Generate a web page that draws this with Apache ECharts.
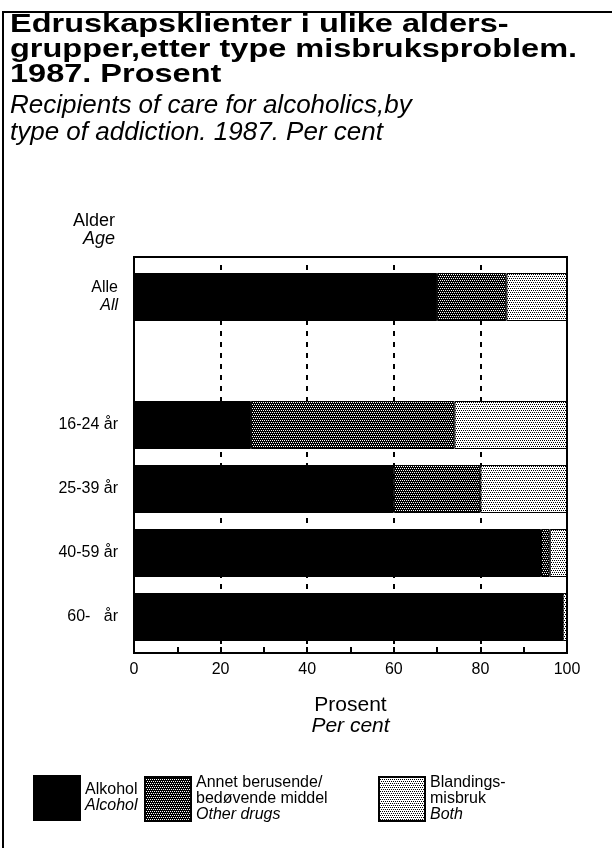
<!DOCTYPE html>
<html>
<head>
<meta charset="utf-8">
<script src="https://cdn.jsdelivr.net/npm/echarts@6/dist/echarts.min.js"></script>
<style>
  html, body { margin: 0; padding: 0; background: #fff; }
  #chart { width: 612px; height: 848px; }
</style>
</head>
<body>
<div id="chart"></div>
<script>
// data (per cent)
var ageGroups = ['Alle', '', '16-24 år', '25-39 år', '40-59 år', '60-   år'];
var ageGroupsEn = ['All', '', '', '', '', ''];
var alcohol = [70, null, 27, 60, 94, 99];
var otherDrugs = [16, null, 47, 20, 2, 0];
var both = [14, null, 26, 20, 4, 1];
var xTicks = [0, 20, 40, 60, 80, 100];

var FONT = '"Liberation Sans", Arial, Helvetica, sans-serif';

// plot frame
var left = 134, right = 567, frameTop = 257, frameBottom = 653;
var gridTop = 265, gridBottom = 649;

// dotted screen patterns like the printed shading
function pattern(size, bg, fg, dots) {
    var c = document.createElement('canvas');
    c.width = size; c.height = size;
    var ctx = c.getContext('2d');
    ctx.fillStyle = bg;
    ctx.fillRect(0, 0, size, size);
    ctx.fillStyle = fg;
    dots.forEach(function (d) { ctx.fillRect(d[0], d[1], 1, 1); });
    return { image: c, repeat: 'repeat' };
}
var darkDots = pattern(4, '#000', '#fff', [[0, 0], [2, 0], [1, 2], [3, 2]]);
var lightDots = pattern(4, '#fff', '#000', [[0, 0], [2, 0], [1, 2], [3, 2]]);

var chart = echarts.init(document.getElementById('chart'));

function seriesOf(name, data, color) {
    return {
        name: name,
        type: 'bar',
        stack: 'total',
        barWidth: 48,
        data: data,
        itemStyle: { color: color, borderColor: '#000', borderWidth: 1 },
        emphasis: { disabled: true }
    };
}

var legendRich = {
    n: { fontFamily: FONT, fontSize: 16, color: '#000', lineHeight: 16 },
    i: { fontFamily: FONT, fontSize: 16, fontStyle: 'italic', color: '#000', lineHeight: 16 }
};

function legendAt(name, x, label) {
    return {
        data: [{ name: name, icon: 'rect' }],
        left: x,
        top: 775,
        padding: 0,
        itemWidth: 46,
        itemHeight: 44,
        selectedMode: false,
        formatter: function () { return label; },
        textStyle: { rich: legendRich }
    };
}

chart.setOption({
    animation: false,
    textStyle: { fontFamily: FONT, color: '#000' },
    title: [{
        text: 'Alder',
        subtext: 'Age',
        left: 115,
        top: 212,
        textAlign: 'right',
        itemGap: 0,
        padding: 0,
        textStyle: { fontFamily: FONT, fontSize: 18, fontWeight: 'normal', color: '#000', lineHeight: 18 },
        subtextStyle: { fontFamily: FONT, fontSize: 18, fontStyle: 'italic', color: '#000', lineHeight: 18 }
    }],
    legend: [
        legendAt('Alkohol', 33, '{n|Alkohol}\n{i|Alcohol}'),
        legendAt('Annet', 144, '{n|Annet berusende/}\n{n|bedøvende middel}\n{i|Other drugs}'),
        legendAt('Blandingsmisbruk', 378, '{n|Blandings-}\n{n|misbruk}\n{i|Both}')
    ],
    grid: { left: left, right: 612 - right, top: gridTop, bottom: 848 - gridBottom, containLabel: false },
    xAxis: {
        type: 'value',
        min: 0,
        max: 100,
        interval: 20,
        offset: frameBottom - gridBottom,
        axisLine: { show: false },
        axisTick: { show: true, inside: true, length: 6, lineStyle: { color: '#000', width: 2 } },
        minorTick: { show: true, splitNumber: 2, length: 6, lineStyle: { color: '#000', width: 2 } },
        axisLabel: {
            margin: 9,
            fontSize: 16,
            color: '#000',
            formatter: function (v) { return xTicks.indexOf(v) >= 0 ? String(v) : ''; }
        },
        splitLine: { show: true, lineStyle: { color: '#000', width: 2, type: [5, 6] } },
        name: 'Prosent\n{i|Per cent}',
        nameLocation: 'middle',
        nameGap: 42,
        nameTextStyle: {
            fontSize: 21,
            color: '#000',
            lineHeight: 21,
            rich: { i: { fontSize: 21, fontStyle: 'italic', color: '#000', lineHeight: 21 } }
        }
    },
    yAxis: {
        type: 'category',
        inverse: true,
        data: ageGroups,
        axisLine: { show: false },
        axisTick: { show: false },
        axisLabel: {
            margin: 16,
            color: '#000',
            fontSize: 16,
            formatter: function (v, idx) {
                return ageGroupsEn[idx] ? '{n|' + v + '}\n{i|' + ageGroupsEn[idx] + '}' : v;
            },
            rich: {
                n: { fontSize: 16, color: '#000', lineHeight: 18, align: 'right' },
                i: { fontSize: 16, fontStyle: 'italic', color: '#000', lineHeight: 18, align: 'right' }
            }
        }
    },
    series: [
        seriesOf('Alkohol', alcohol, '#000'),
        seriesOf('Annet', otherDrugs, darkDots),
        seriesOf('Blandingsmisbruk', both, lightDots)
    ],
    graphic: [{
        // bold heading, set wide like the printed face
        type: 'text',
        x: 10,
        y: 12,
        scaleX: 1.25,
        style: {
            text: 'Edruskapsklienter i ulike alders-\ngrupper,etter type misbruksproblem.\n1987. Prosent',
            font: 'bold 26px ' + FONT,
            lineHeight: 25,
            fill: '#000',
            verticalAlign: 'top'
        }
    }, {
        type: 'text',
        x: 10,
        y: 92,
        style: {
            text: 'Recipients of care for alcoholics,by\ntype of addiction. 1987. Per cent',
            font: 'italic 26px ' + FONT,
            lineHeight: 27,
            fill: '#000',
            verticalAlign: 'top'
        }
    }, {
        type: 'rect',
        shape: { x: left, y: frameTop, width: right - left, height: frameBottom - frameTop },
        style: { fill: null, stroke: '#000', lineWidth: 2 },
        z: 100
    }, {
        type: 'polyline',
        shape: { points: [[3, 848], [3, 12], [612, 12]] },
        style: { fill: null, stroke: '#000', lineWidth: 2 },
        z: 100
    }]
});
</script>
</body>
</html>
